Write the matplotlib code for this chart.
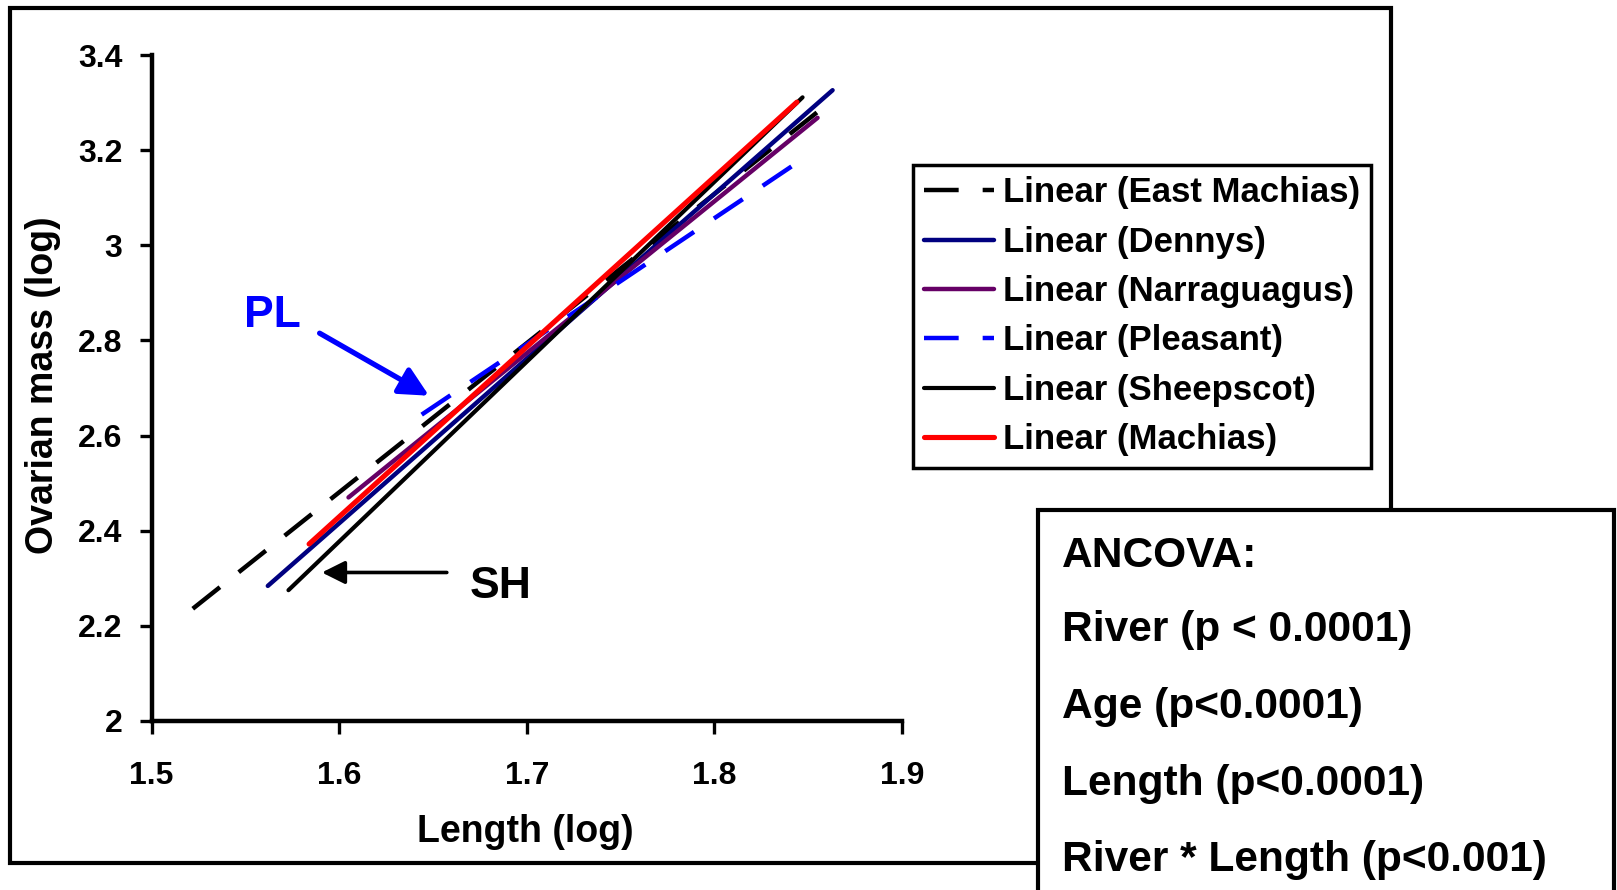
import matplotlib
matplotlib.use("Agg")
import matplotlib.pyplot as plt
from matplotlib.patches import Rectangle

plt.rcParams['font.family'] = ['Liberation Sans', 'DejaVu Sans']
plt.rcParams['font.weight'] = 'bold'

# Regression lines (start / end points in data units)
rivers = ["East Machias", "Dennys", "Narraguagus", "Pleasant", "Sheepscot", "Machias"]
x_start = [1.522, 1.562, 1.605, 1.644, 1.573, 1.584]
x_end = [1.860, 1.863, 1.855, 1.845, 1.847, 1.844]
y_start = [2.236, 2.284, 2.470, 2.644, 2.275, 2.372]
y_end = [3.296, 3.326, 3.268, 3.176, 3.311, 3.301]
colors = ["black", "#000080", "#660066", "#0000FF", "black", "#FF0000"]
dashed = [True, False, False, True, False, False]
widths = [3.2, 3.2, 3.2, 3.2, 3.0, 3.7]

x_ticks = [1.5, 1.6, 1.7, 1.8, 1.9]
y_ticks = [2.0, 2.2, 2.4, 2.6, 2.8, 3.0, 3.2, 3.4]
y_ticklabels = ["2", "2.2", "2.4", "2.6", "2.8", "3", "3.2", "3.4"]

ancova_lines = ["ANCOVA:", "River (p < 0.0001)", "Age (p<0.0001)",
                "Length (p<0.0001)", "River * Length (p<0.001)"]

W, H = 1617, 890
fig = plt.figure(figsize=(W / 100, H / 100), dpi=100)
fig.patch.set_facecolor("white")

def fx(px):
    return px / W

def fy(py):
    return 1 - py / H

ax_l, ax_r, ax_t, ax_b = 151.5, 902, 55, 721
ax = fig.add_axes([fx(ax_l), fy(ax_b), (ax_r - ax_l) / W, (ax_b - ax_t) / H])
ax.set_xlim(1.5, 1.9)
ax.set_ylim(2.0, 3.4)

for i, name in enumerate(rivers):
    kw = dict(color=colors[i], lw=widths[i], clip_on=False,
              label=f"Linear ({name})", zorder=3 + i)
    if dashed[i]:
        line, = ax.plot([x_start[i], x_end[i]], [y_start[i], y_end[i]], **kw)
        line.set_dashes((7.8, 5.4))
        line.set_dash_capstyle('butt')
    else:
        line, = ax.plot([x_start[i], x_end[i]], [y_start[i], y_end[i]], **kw)
        line.set_solid_capstyle('round')

for s in ["top", "right"]:
    ax.spines[s].set_visible(False)
for s in ["left", "bottom"]:
    ax.spines[s].set_linewidth(3.2)
ax.set_xticks(x_ticks)
ax.set_xticklabels([str(v) for v in x_ticks])
ax.set_yticks(y_ticks)
ax.set_yticklabels(y_ticklabels)
ax.tick_params(axis='both', direction='out', length=9, width=2.4, labelsize=23)
ax.tick_params(axis='x', pad=19.5)
ax.tick_params(axis='y', pad=12)
for lab in ax.get_xticklabels() + ax.get_yticklabels():
    lab.set_fontweight('bold')

ax.set_xlabel("Length (log)", fontsize=27, fontweight='bold')
ax.set_ylabel("Ovarian mass (log)", fontsize=27, fontweight='bold')
ax.xaxis.set_label_coords((525 - ax_l) / (ax_r - ax_l), (ax_b - 832) / (ax_b - ax_t))
ax.xaxis.label.set_va('center')
ax.yaxis.set_label_coords((43 - ax_l) / (ax_r - ax_l), (ax_b - 385) / (ax_b - ax_t))
ax.yaxis.label.set_va('center')

# Annotations
ax.annotate("", xy=(1.6479, 2.6838), xytext=(1.5896, 2.8152),
            arrowprops=dict(arrowstyle='-|>,head_length=0.8,head_width=0.4',
                            lw=3.8, color='#0000FF', shrinkA=0, shrinkB=0,
                            mutation_scale=22), zorder=10)
ax.text(1.5645, 2.853, "PL", color='#0000FF', fontsize=32, fontweight='bold',
        ha='center', va='center')
ax.annotate("", xy=(1.5908, 2.3122), xytext=(1.6574, 2.3122),
            arrowprops=dict(arrowstyle='-|>,head_length=0.7,head_width=0.35',
                            lw=2.6, color='black', shrinkA=0, shrinkB=0,
                            mutation_scale=20), zorder=10)
ax.text(1.686, 2.282, "SH", color='black', fontsize=32, fontweight='bold',
        ha='center', va='center')

# Legend
leg = fig.legend(loc='upper left', bbox_to_anchor=(fx(913), fy(165)),
                 bbox_transform=fig.transFigure, borderaxespad=0,
                 handlelength=2.0, handletextpad=0.25,
                 borderpad=0.33, labelspacing=0.47, fancybox=False,
                 framealpha=1, edgecolor='black', prop={'weight': 'bold', 'size': 25})
leg.get_frame().set_linewidth(2.5)

# Outer chart border
fig.add_artist(Rectangle((fx(10), fy(863)), (1391 - 10) / W, (863 - 8) / H,
                         transform=fig.transFigure, fill=False, lw=3,
                         edgecolor='black', zorder=1))

# ANCOVA box
fig.add_artist(Rectangle((fx(1038), fy(905)), (1614 - 1038) / W, (905 - 510) / H,
                         transform=fig.transFigure, facecolor='white', lw=3,
                         edgecolor='black', zorder=20, clip_on=False))
y_positions = [556, 630, 707, 784, 860]
for txt, yy in zip(ancova_lines, y_positions):
    fig.text(fx(1062), fy(yy), txt, fontsize=30.6, fontweight='bold',
             ha='left', va='center', zorder=21)

fig.savefig("out.png", dpi=100)
